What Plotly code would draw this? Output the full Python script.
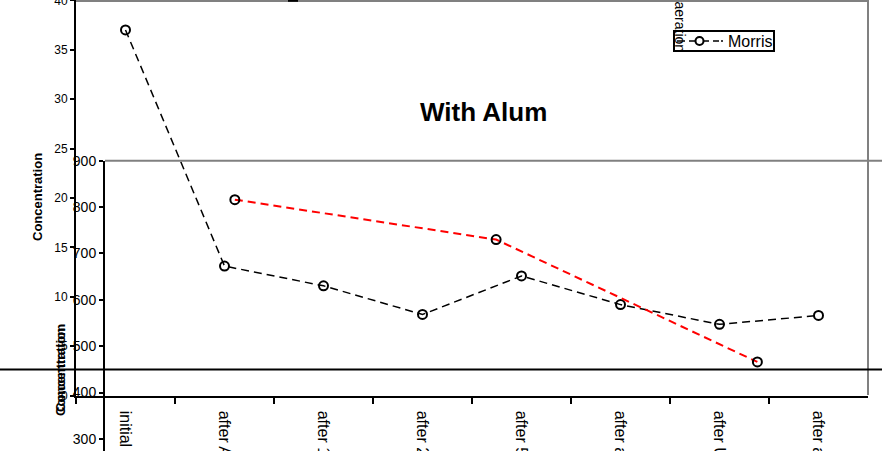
import plotly.graph_objects as go

W, H = 882, 451

# ---- data ----
cats_alum = ["initial", "after Alum", "after 1 hr", "after 24 hrs", "after 5 days",
             "after aeration", "after UV", "after aeration 2"]
morris_vals = [37.0, 13.1, 11.1, 8.2, 12.1, 9.2, 7.2, 8.1]

cats_b = ["A", "B", "C"]
red_vals = [816, 730, 466]

alum_yticks = [0, 5, 10, 15, 20, 25, 30, 35, 40]
b_yticks = [300, 400, 500, 600, 700, 800, 900]

legend_name = "Morris"


def px(x):
    return x / W


def py(y):
    return 1 - y / H


FONT = "Arial, Liberation Sans, sans-serif"
GREY = "#808080"

fig = go.Figure()

fig.add_trace(go.Scatter(
    x=cats_alum, y=morris_vals, xaxis="x", yaxis="y", name=legend_name,
    mode="lines+markers", showlegend=False,
    line=dict(color="black", width=1.5, dash="8px,5px"),
    marker=dict(symbol="circle-open", size=9, color="black", line=dict(width=2, color="black")),
))
fig.add_trace(go.Scatter(
    x=cats_b, y=red_vals, xaxis="x2", yaxis="y2", name="series 2", showlegend=False,
    mode="lines+markers",
    line=dict(color="#ff0000", width=2, dash="8px,5px"),
    marker=dict(symbol="circle-open", size=9, color="black", line=dict(width=2, color="black")),
))

fig.update_layout(
    width=W, height=H,
    margin=dict(l=0, r=0, t=0, b=0, autoexpand=False),
    paper_bgcolor="white",
    plot_bgcolor="rgba(0,0,0,0)",
    font=dict(family=FONT, color="black"),
    showlegend=False,
    xaxis=dict(
        domain=[px(76), px(868)], anchor="y", type="category", range=[-0.5, 7.5],
        automargin=False,
        showline=True, linecolor="black", linewidth=2,
        ticks="outside", ticklen=6, tickwidth=1.5, tickcolor="black",
        tickson="boundaries", tickangle=90, ticklabelstandoff=10,
        tickfont=dict(size=16, family=FONT, color="black"),
        showgrid=False, zeroline=False,
    ),
    yaxis=dict(
        domain=[py(395.5), 1.0], anchor="x", range=[0, 40.03],
        automargin=False, ticklabeloverflow="allow",
        tickvals=alum_yticks,
        showline=True, linecolor="black", linewidth=2,
        ticks="outside", ticklen=4, tickwidth=1.5, tickcolor="black",
        tickfont=dict(size=12, family=FONT, color="black"),
        showgrid=False, zeroline=False,
    ),
    xaxis2=dict(
        domain=[px(105), 1.0], anchor="y2", type="category", range=[-0.497, 2.477],
        automargin=False, visible=False,
    ),
    yaxis2=dict(
        domain=[0, py(160.7)], anchor="x2", range=[274, 900],
        automargin=False, ticklabeloverflow="allow",
        tickvals=b_yticks,
        showline=True, linecolor="black", linewidth=2,
        ticks="outside", ticklen=4, tickwidth=1.5, tickcolor="black",
        tickfont=dict(size=14, family=FONT, color="black"),
        showgrid=False, zeroline=False,
    ),
)

shapes = [
    # plot-area border of the alum chart (grey)
    dict(type="line", xref="paper", yref="paper", x0=px(76), x1=px(868), y0=py(1), y1=py(1),
         line=dict(color=GREY, width=2)),
    dict(type="line", xref="paper", yref="paper", x0=px(868), x1=px(868), y0=py(0), y1=py(395),
         line=dict(color=GREY, width=2)),
    # top border of the second chart
    dict(type="line", xref="paper", yref="paper", x0=px(105), x1=1, y0=py(160.7), y1=py(160.7),
         line=dict(color=GREY, width=2)),
    # black rule across the page
    dict(type="line", xref="paper", yref="paper", x0=0, x1=1, y0=py(369.5), y1=py(369.5),
         line=dict(color="black", width=2), layer="above"),
    # small dash at top
    dict(type="line", xref="paper", yref="paper", x0=px(288), x1=px(298), y0=py(0.8), y1=py(0.8),
         line=dict(color="black", width=2)),
    # legend box
    dict(type="rect", xref="paper", yref="paper", x0=px(674), x1=px(774), y0=py(51), y1=py(31),
         line=dict(color="black", width=2), fillcolor="white", layer="above"),
    # legend line sample
    dict(type="line", xref="paper", yref="paper", x0=px(677), x1=px(719), y0=py(41), y1=py(41),
         line=dict(color="black", width=1.5, dash="8px,4px"), layer="above"),
    dict(type="line", xref="paper", yref="paper", x0=px(721), x1=px(723), y0=py(41), y1=py(41),
         line=dict(color="black", width=1.5), layer="above"),
    dict(type="circle", xref="paper", yref="paper", x0=px(695.5), x1=px(703.5), y0=py(45), y1=py(37),
         line=dict(color="black", width=2), fillcolor="white", layer="above"),
]
fig.update_layout(shapes=shapes)

annotations = [
    dict(text="<b>With Alum</b>", x=px(483), y=py(112), xref="paper", yref="paper",
         showarrow=False, xanchor="center", yanchor="middle",
         font=dict(size=26, family=FONT, color="black")),
    dict(text="<b>Concentration</b>", x=px(38), y=py(197), xref="paper", yref="paper",
         showarrow=False, textangle=-90, xanchor="center", yanchor="middle",
         font=dict(size=13, family=FONT, color="black")),
    dict(text="<b>Concentration</b>", x=px(60), y=py(368), xref="paper", yref="paper",
         showarrow=False, textangle=-90, xanchor="center", yanchor="middle",
         font=dict(size=13, family=FONT, color="black")),
    dict(text="<b>Concentration</b>", x=px(60), y=py(372), xref="paper", yref="paper",
         showarrow=False, textangle=-90, xanchor="center", yanchor="middle",
         font=dict(size=13, family=FONT, color="black")),
    dict(text="aeration", x=px(680), y=py(0), xref="paper", yref="paper",
         showarrow=False, textangle=90, xanchor="center", yanchor="top",
         borderpad=0,
         font=dict(size=14, family=FONT, color="black")),
    dict(text=legend_name, x=px(727), y=py(41.5), xref="paper", yref="paper",
         showarrow=False, xanchor="left", yanchor="middle", borderpad=0,
         font=dict(size=16, family=FONT, color="black")),
]
fig.update_layout(annotations=annotations)

fig.write_html("out.html")
